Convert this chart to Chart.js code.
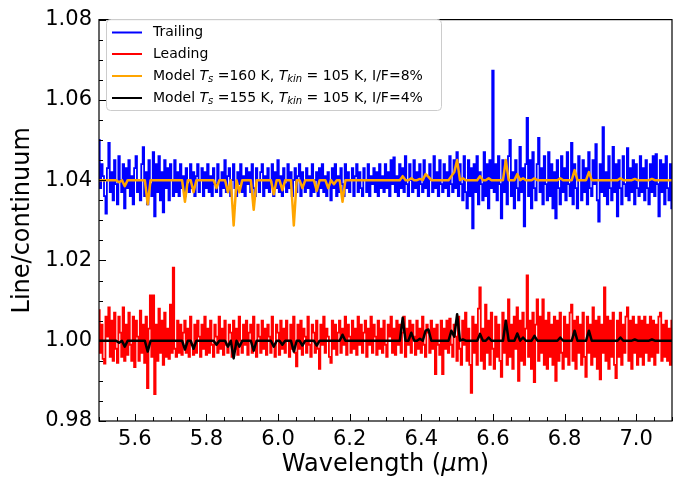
<!DOCTYPE html>
<html>
<head>
<meta charset="utf-8">
<script src="https://cdn.jsdelivr.net/npm/chart.js@4.4.1/dist/chart.umd.min.js"></script>
<style>
  html, body { margin: 0; padding: 0; background: #fff; }
</style>
</head>
<body>
<canvas id="spec" width="689" height="479"></canvas>
<script>
// wavelength sampling (um): observed spectra and models
const waveStart = 5.5;
const dataStep = 0.004;
const modelStep = 0.008;

// trailing hemisphere, offset to 1.04
const trailing = [
  1.050, 1.038, 1.044, 1.041, 1.036, 1.0317, 1.043, 1.0493, 1.037, 1.042, 1.035, 1.045, 1.039, 1.034, 1.046, 1.040, 1.037, 1.044, 1.033, 1.043,
  1.038, 1.045, 1.036, 1.041, 1.034, 1.043, 1.046, 1.037, 1.040, 1.035, 1.044, 1.0482, 1.036, 1.042, 1.034, 1.045, 1.039, 1.036, 1.047, 1.031,
  1.044, 1.037, 1.046, 1.035, 1.042, 1.032, 1.045, 1.038, 1.043, 1.035, 1.044, 1.040, 1.036, 1.045, 1.037, 1.042, 1.036, 1.044, 1.038, 1.041,
  1.036, 1.043, 1.039, 1.037, 1.044, 1.038, 1.042, 1.036, 1.041, 1.044, 1.037, 1.040, 1.043, 1.036, 1.042, 1.038, 1.044, 1.037, 1.041, 1.036,
  1.043, 1.039, 1.037, 1.044, 1.040, 1.036, 1.042, 1.038, 1.045, 1.037, 1.041, 1.043, 1.036, 1.040, 1.044, 1.038, 1.036, 1.042, 1.039, 1.044,
  1.037, 1.041, 1.036, 1.043, 1.039, 1.042, 1.037, 1.044, 1.038, 1.036, 1.043, 1.040, 1.037, 1.042, 1.044, 1.036, 1.041, 1.038, 1.043, 1.037,
  1.040, 1.044, 1.036, 1.042, 1.038, 1.045, 1.037, 1.041, 1.036, 1.043, 1.039, 1.037, 1.044, 1.038, 1.042, 1.036, 1.040, 1.043, 1.037, 1.041,
  1.044, 1.036, 1.042, 1.039, 1.037, 1.043, 1.038, 1.041, 1.036, 1.044, 1.037, 1.040, 1.042, 1.036, 1.043, 1.038, 1.044, 1.037, 1.041, 1.036,
  1.042, 1.039, 1.035, 1.043, 1.038, 1.044, 1.036, 1.041, 1.037, 1.043, 1.039, 1.036, 1.044, 1.038, 1.042, 1.037, 1.040, 1.043, 1.036, 1.041,
  1.044, 1.037, 1.042, 1.038, 1.036, 1.043, 1.040, 1.037, 1.044, 1.036, 1.041, 1.039, 1.043, 1.037, 1.042, 1.036, 1.044, 1.038, 1.041, 1.037,
  1.044, 1.038, 1.042, 1.036, 1.045, 1.039, 1.0457, 1.037, 1.041, 1.036, 1.044, 1.038, 1.043, 1.037, 1.046, 1.039, 1.036, 1.044, 1.040, 1.037,
  1.045, 1.038, 1.042, 1.036, 1.044, 1.039, 1.037, 1.045, 1.038, 1.041, 1.036, 1.044, 1.040, 1.037, 1.046, 1.038, 1.042, 1.036, 1.045, 1.039,
  1.037, 1.044, 1.038, 1.042, 1.036, 1.046, 1.039, 1.037, 1.045, 1.038, 1.047, 1.036, 1.044, 1.039, 1.035, 1.046, 1.037, 1.033, 1.045, 1.036,
  1.043, 1.028, 1.044, 1.037, 1.046, 1.034, 1.042, 1.039, 1.035, 1.047, 1.036, 1.044, 1.033, 1.045, 1.038, 1.0673, 1.037, 1.044, 1.035, 1.046,
  1.039, 1.0305, 1.045, 1.037, 1.043, 1.034, 1.046, 1.050, 1.036, 1.042, 1.033, 1.045, 1.038, 1.035, 1.0483, 1.037, 1.043, 1.0285, 1.044, 1.0555,
  1.036, 1.045, 1.033, 1.047, 1.038, 1.035, 1.044, 1.0505, 1.037, 1.043, 1.034, 1.046, 1.039, 1.035, 1.047, 1.036, 1.044, 1.033, 1.042, 1.0305,
  1.045, 1.038, 1.034, 1.046, 1.037, 1.043, 1.035, 1.047, 1.039, 1.036, 1.0493, 1.034, 1.044, 1.038, 1.033, 1.046, 1.040, 1.035, 1.045, 1.037,
  1.043, 1.034, 1.047, 1.038, 1.036, 1.045, 1.039, 1.049, 1.035, 1.0297, 1.044, 1.037, 1.0532, 1.036, 1.042, 1.034, 1.046, 1.038, 1.035, 1.0483,
  1.037, 1.044, 1.031, 1.045, 1.038, 1.034, 1.046, 1.039, 1.036, 1.048, 1.035, 1.043, 1.037, 1.045, 1.034, 1.044, 1.038, 1.036, 1.046, 1.037,
  1.043, 1.035, 1.045, 1.038, 1.034, 1.044, 1.037, 1.046, 1.036, 1.0465, 1.039, 1.031, 1.045, 1.037, 1.044, 1.034, 1.046, 1.038, 1.035, 1.044,
  1.033
];

// leading hemisphere
const leading = [
  1.0076, 0.997, 1.004, 0.9955, 0.9943, 1.006, 1.001, 1.0083, 0.996, 1.005, 0.995, 1.007, 0.998, 0.9945, 1.006, 1.002, 0.996, 1.0083, 0.995, 1.004,
  0.9965, 1.007, 0.999, 0.995, 1.006, 0.9934, 1.005, 1.001, 0.995, 1.0075, 0.997, 1.004, 0.9945, 1.006, 0.9882, 1.003, 1.0113, 0.996, 1.0113, 0.9867,
  1.004, 0.995, 1.008, 0.997, 1.005, 0.994, 1.007, 0.996, 1.003, 0.9955, 1.009, 0.997, 1.0182, 0.998, 0.996, 1.005, 0.997, 1.004, 0.9965, 1.002,
  1.005, 0.997, 1.003, 0.996, 1.006, 0.999, 0.9965, 1.004, 0.997, 1.005, 1.001, 0.996, 1.004, 0.998, 1.006, 0.9965, 1.003, 0.997, 1.005, 0.999,
  0.996, 1.004, 1.001, 0.997, 1.006, 0.998, 1.003, 0.9965, 1.005, 0.999, 0.997, 1.004, 1.002, 0.996, 1.005, 0.998, 1.003, 0.9965, 1.006, 1.000,
  0.997, 1.004, 0.999, 1.005, 0.9965, 1.002, 1.004, 0.997, 1.006, 0.999, 0.996, 1.004, 1.001, 0.997, 1.005, 0.998, 1.003, 0.9965, 1.004, 1.001,
  0.997, 1.006, 0.999, 0.996, 1.004, 1.002, 0.9965, 1.005, 0.998, 1.003, 0.997, 1.005, 1.000, 0.996, 1.004, 0.998, 1.006, 0.997, 0.9936, 1.004,
  0.998, 1.005, 0.9965, 1.003, 1.001, 0.997, 1.006, 0.999, 0.996, 1.004, 1.002, 0.997, 1.005, 0.998, 0.993, 1.004, 0.999, 1.006, 0.997, 1.003,
  1.001, 0.996, 0.9945, 1.005, 0.998, 1.004, 0.9965, 1.002, 1.005, 0.997, 1.003, 0.999, 1.006, 0.9965, 1.004, 1.001, 0.997, 1.005, 0.998, 1.003,
  0.9965, 1.006, 0.999, 1.004, 0.997, 1.002, 1.005, 0.996, 1.003, 0.999, 1.006, 0.997, 1.004, 1.001, 0.9965, 1.005, 0.998, 1.003, 0.997, 1.005,
  0.999, 0.996, 1.004, 1.001, 1.006, 0.997, 1.003, 0.9965, 1.005, 0.999, 1.004, 0.997, 1.002, 1.006, 0.996, 1.003, 0.999, 1.005, 0.997, 1.004,
  1.001, 0.9965, 1.005, 0.998, 1.003, 0.997, 1.006, 0.999, 0.996, 1.004, 1.002, 0.997, 1.005, 0.998, 1.003, 0.9917, 1.004, 0.999, 0.9965, 1.005,
  0.9917, 1.003, 0.998, 1.005, 0.997, 1.0055, 0.999, 0.996, 1.004, 1.001, 0.995, 1.006, 0.998, 0.994, 1.005, 0.999, 1.007, 0.995, 1.003, 0.994,
  0.987, 1.006, 0.997, 1.004, 0.994, 1.008, 1.0133, 0.995, 1.003, 0.993, 1.009, 0.997, 1.005, 0.994, 1.007, 0.998, 0.993, 1.006, 0.996, 1.004,
  0.995, 0.991, 1.007, 0.997, 1.005, 0.994, 1.0103, 0.996, 1.004, 0.993, 1.006, 0.998, 1.0083, 0.990, 1.005, 0.995, 1.007, 0.994, 1.003, 1.0163,
  0.996, 1.005, 0.993, 1.007, 0.9897, 1.004, 1.0103, 0.995, 1.006, 0.997, 1.0103, 0.994, 1.005, 0.993, 1.007, 0.996, 1.004, 0.994, 1.006, 0.990,
  1.005, 0.995, 1.007, 0.997, 0.993, 1.006, 0.996, 1.004, 0.994, 1.007, 1.009, 0.995, 1.005, 0.993, 1.006, 0.997, 1.004, 0.994, 1.007, 0.996,
  0.991, 1.006, 0.997, 1.004, 0.994, 1.0083, 0.996, 1.005, 0.993, 1.006, 0.9904, 1.004, 0.997, 1.0133, 0.995, 1.006, 0.993, 1.005, 0.996, 1.007,
  0.994, 0.9907, 1.005, 0.996, 1.007, 0.994, 1.004, 0.997, 1.006, 1.0083, 0.995, 1.005, 0.993, 1.006, 0.997, 1.004, 0.994, 1.006, 0.996, 1.005,
  0.994, 1.006, 0.997, 1.004, 0.995, 1.006, 0.996, 1.005, 0.994, 1.004, 0.997, 1.006, 1.007, 0.995, 1.004, 0.996, 1.005, 0.995, 1.003, 0.994,
  1.005
];

// model, Ts = 160 K, I/F = 8% (on trailing offset)
const modelTrailing = [
  1.040, 1.040, 1.040, 1.040, 1.040, 1.040, 1.040, 1.0395, 1.040, 1.0385, 1.040, 1.040, 1.040, 1.040, 1.040, 1.040, 1.040, 1.034, 1.040, 1.040,
  1.040, 1.040, 1.040, 1.040, 1.040, 1.040, 1.040, 1.040, 1.040, 1.040, 1.0346, 1.040, 1.040, 1.037, 1.040, 1.040, 1.040, 1.040, 1.040, 1.040,
  1.040, 1.038, 1.040, 1.040, 1.040, 1.037, 1.040, 1.0287, 1.040, 1.037, 1.040, 1.040, 1.040, 1.040, 1.0326, 1.040, 1.040, 1.040, 1.040, 1.040,
  1.040, 1.0365, 1.040, 1.040, 1.0375, 1.040, 1.040, 1.040, 1.0287, 1.040, 1.040, 1.038, 1.040, 1.040, 1.040, 1.040, 1.0373, 1.040, 1.040, 1.040,
  1.038, 1.040, 1.039, 1.040, 1.040, 1.0346, 1.040, 1.040, 1.040, 1.040, 1.040, 1.040, 1.040, 1.040, 1.040, 1.040, 1.040, 1.040, 1.040, 1.040,
  1.040, 1.040, 1.040, 1.040, 1.040, 1.040, 1.041, 1.040, 1.040, 1.0405, 1.040, 1.040, 1.0403, 1.040, 1.0415, 1.0408, 1.040, 1.040, 1.040, 1.040,
  1.040, 1.040, 1.040, 1.041, 1.042, 1.045, 1.040, 1.0405, 1.040, 1.040, 1.040, 1.040, 1.040, 1.041, 1.040, 1.040, 1.0405, 1.040, 1.040, 1.040,
  1.040, 1.040, 1.045, 1.040, 1.040, 1.040, 1.0415, 1.040, 1.0405, 1.040, 1.040, 1.040, 1.0405, 1.040, 1.040, 1.040, 1.040, 1.040, 1.040, 1.040,
  1.040, 1.0405, 1.040, 1.040, 1.040, 1.040, 1.0425, 1.040, 1.040, 1.040, 1.040, 1.042, 1.040, 1.040, 1.040, 1.040, 1.040, 1.040, 1.040, 1.040,
  1.040, 1.040, 1.0405, 1.040, 1.040, 1.040, 1.040, 1.0403, 1.040, 1.040, 1.040, 1.040, 1.040, 1.0403, 1.040, 1.040, 1.040, 1.040, 1.040, 1.040,
  1.040
];

// model, Ts = 155 K, I/F = 4%
const modelLeading = [
  1.000, 1.000, 1.000, 1.000, 1.000, 1.000, 1.000, 0.9995, 1.000, 0.9985, 1.000, 1.000, 1.000, 1.000, 1.000, 1.000, 1.000, 0.9973, 1.000, 1.000,
  1.000, 1.000, 1.000, 1.000, 1.000, 1.000, 1.000, 1.000, 1.000, 1.000, 0.9978, 1.000, 1.000, 0.998, 1.000, 1.000, 1.000, 1.000, 1.000, 1.000,
  1.000, 0.999, 1.000, 1.000, 1.000, 0.9985, 1.000, 0.9956, 1.000, 0.9985, 1.000, 1.000, 1.000, 1.000, 0.9975, 1.000, 1.000, 1.000, 1.000, 1.000,
  1.000, 0.9985, 1.000, 1.000, 0.999, 1.000, 1.000, 1.000, 0.9973, 1.000, 1.000, 0.9988, 1.000, 1.000, 1.000, 1.000, 0.9988, 1.000, 1.000, 1.000,
  1.000, 1.000, 1.000, 1.000, 1.000, 1.0015, 1.000, 1.000, 1.000, 1.000, 1.000, 1.000, 1.000, 1.000, 1.000, 1.000, 1.000, 1.000, 1.000, 1.000,
  1.000, 1.000, 1.000, 1.000, 1.000, 1.000, 1.0057, 1.000, 1.000, 1.002, 1.000, 1.000, 1.0005, 1.000, 1.0025, 1.0028, 1.000, 1.000, 1.000, 1.000,
  1.000, 1.000, 1.000, 1.0025, 1.001, 1.0066, 1.000, 1.0003, 1.000, 1.000, 1.000, 1.000, 1.000, 1.0017, 1.000, 1.000, 1.0008, 1.000, 1.000, 1.000,
  1.000, 1.000, 1.005, 1.000, 1.000, 1.000, 1.0018, 1.000, 1.0008, 1.000, 1.000, 1.000, 1.0012, 1.000, 1.000, 1.000, 1.000, 1.000, 1.000, 1.000,
  1.000, 1.0008, 1.000, 1.000, 1.000, 1.000, 1.0025, 1.000, 1.000, 1.000, 1.000, 1.0025, 1.000, 1.000, 1.000, 1.000, 1.000, 1.000, 1.000, 1.000,
  1.000, 1.000, 1.0008, 1.000, 1.000, 1.000, 1.000, 1.0003, 1.000, 1.000, 1.000, 1.000, 1.000, 1.0003, 1.000, 1.000, 1.000, 1.000, 1.000, 1.000,
  1.000
];

const xTicks = [5.6, 5.8, 6.0, 6.2, 6.4, 6.6, 6.8, 7.0];
const yTicks = [0.98, 1.00, 1.02, 1.04, 1.06, 1.08];

// legend labels, split in runs so T_s / T_kin come out italic with subscripts
const legendRows = [
  { color: '#0000ff', runs: [['Trailing', 'n']] },
  { color: '#ff0000', runs: [['Leading', 'n']] },
  { color: '#ffa500', runs: [['Model ', 'n'], ['T', 'i'], ['s', 'sub'], [' =160 K, ', 'n'], ['T', 'i'], ['kin', 'sub'], [' = 105 K, I/F=8%', 'n']] },
  { color: '#000000', runs: [['Model ', 'n'], ['T', 'i'], ['s', 'sub'], [' =155 K, ', 'n'], ['T', 'i'], ['kin', 'sub'], [' = 105 K, I/F=4%', 'n']] }
];

const FONT = "'DejaVu Sans', sans-serif";

function toPoints(vals, step) {
  return vals.map((v, i) => ({ x: +(waveStart + i * step).toFixed(3), y: v }));
}

// inward ticks (major + minor) and the box around the plot
const frameTicks = {
  id: 'frameTicks',
  afterDatasetsDraw(chart) {
    const { ctx, chartArea: a, scales: { x, y } } = chart;
    ctx.save();
    ctx.strokeStyle = '#000';
    ctx.lineWidth = 1;
    ctx.beginPath();
    for (let k = 0; k <= 32; k++) {
      const v = 5.5 + k * 0.05;
      const px = Math.round(x.getPixelForValue(v)) + 0.5;
      const major = xTicks.some(t => Math.abs(t - v) < 1e-6);
      ctx.moveTo(px, a.bottom);
      ctx.lineTo(px, a.bottom - (major ? 7 : 4));
    }
    for (let k = 0; k <= 20; k++) {
      const v = 0.98 + k * 0.005;
      const py = Math.round(y.getPixelForValue(v)) + 0.5;
      const major = yTicks.some(t => Math.abs(t - v) < 1e-6);
      ctx.moveTo(a.left, py);
      ctx.lineTo(a.left + (major ? 7 : 4), py);
    }
    ctx.stroke();
    ctx.lineWidth = 1.2;
    ctx.strokeRect(a.left, a.top, a.right - a.left, a.bottom - a.top);
    ctx.restore();
  },
  afterDraw(chart) {
    const { ctx, chartArea: a } = chart;
    ctx.save();
    ctx.fillStyle = '#000';
    ctx.textBaseline = 'middle';
    // x title with italic mu
    const p1 = 'Wavelength (', p3 = 'm)';
    ctx.font = `italic 24px ${FONT}`;
    const wMu = ctx.measureText('\u03bc').width;
    ctx.font = `24px ${FONT}`;
    const w1 = ctx.measureText(p1).width, w3 = ctx.measureText(p3).width;
    const xs = (a.left + a.right) / 2 - (w1 + wMu + w3) / 2;
    const yt = 465;
    ctx.textAlign = 'left';
    ctx.fillText(p1, xs, yt);
    ctx.font = `italic 24px ${FONT}`;
    ctx.fillText('\u03bc', xs + w1, yt);
    ctx.font = `24px ${FONT}`;
    ctx.fillText(p3, xs + w1 + wMu, yt);
    // y title
    ctx.translate(23, (a.top + a.bottom) / 2);
    ctx.rotate(-Math.PI / 2);
    ctx.textAlign = 'center';
    ctx.fillText('Line/continuum', 0, 0);
    ctx.restore();

    // legend
    ctx.save();
    const bx = 106.5, by = 19.5, bw = 335, bh = 91;
    ctx.beginPath();
    ctx.roundRect(bx, by, bw, bh, 4);
    ctx.fillStyle = 'rgba(255,255,255,0.8)';
    ctx.fill();
    ctx.strokeStyle = '#cccccc';
    ctx.lineWidth = 1;
    ctx.stroke();
    const rowY = [32.5, 54, 76, 98];
    ctx.textBaseline = 'middle';
    legendRows.forEach((row, r) => {
      const yy = rowY[r];
      ctx.strokeStyle = row.color;
      ctx.lineWidth = 2;
      ctx.beginPath();
      ctx.moveTo(112, yy);
      ctx.lineTo(142, yy);
      ctx.stroke();
      ctx.fillStyle = '#000';
      let tx = 153;
      row.runs.forEach(([t, s]) => {
        let dy = 0;
        if (s === 'n') ctx.font = `14px ${FONT}`;
        else if (s === 'i') ctx.font = `italic 14px ${FONT}`;
        else { ctx.font = `italic 10px ${FONT}`; dy = 3; }
        ctx.fillText(t, tx, yy + dy);
        tx += ctx.measureText(t).width;
      });
    });
    ctx.restore();
  }
};

const ctx = document.getElementById('spec').getContext('2d');
new Chart(ctx, {
  type: 'line',
  data: {
    datasets: [
      { label: 'Trailing', data: toPoints(trailing, dataStep), borderColor: '#0000ff', borderWidth: 1.8, stepped: 'middle', borderJoinStyle: 'miter', order: 3 },
      { label: 'Leading', data: toPoints(leading, dataStep), borderColor: '#ff0000', borderWidth: 1.8, stepped: 'middle', borderJoinStyle: 'miter', order: 2 },
      { label: 'Model 160 K', data: toPoints(modelTrailing, modelStep), borderColor: '#ffa500', borderWidth: 2.5, stepped: false, borderJoinStyle: 'round', order: 1 },
      { label: 'Model 155 K', data: toPoints(modelLeading, modelStep), borderColor: '#000000', borderWidth: 2.5, stepped: false, borderJoinStyle: 'round', order: 0 }
    ]
  },
  options: {
    responsive: false,
    animation: false,
    parsing: false,
    normalized: true,
    elements: {
      point: { radius: 0 },
      line: { tension: 0, fill: false }
    },
    layout: { padding: { left: 0, top: 12, right: 17, bottom: 0 } },
    plugins: { legend: { display: false }, tooltip: { enabled: false } },
    scales: {
      x: {
        type: 'linear',
        min: 5.5,
        max: 7.1,
        grid: { display: false, drawTicks: false },
        border: { display: false },
        afterBuildTicks: s => { s.ticks = xTicks.map(v => ({ value: v })); },
        afterFit: s => { s.height = 58; },
        ticks: {
          padding: 6,
          color: '#000',
          font: { family: FONT, size: 21 },
          maxRotation: 0,
          callback: v => v.toFixed(1)
        }
      },
      y: {
        type: 'linear',
        min: 0.98,
        max: 1.08,
        grid: { display: false, drawTicks: false },
        border: { display: false },
        afterBuildTicks: s => { s.ticks = yTicks.map(v => ({ value: v })); },
        afterFit: s => { s.width = 99; },
        ticks: {
          padding: 7,
          color: '#000',
          font: { family: FONT, size: 21 },
          callback: v => v.toFixed(2)
        }
      }
    }
  },
  plugins: [frameTicks]
});
</script>
</body>
</html>
